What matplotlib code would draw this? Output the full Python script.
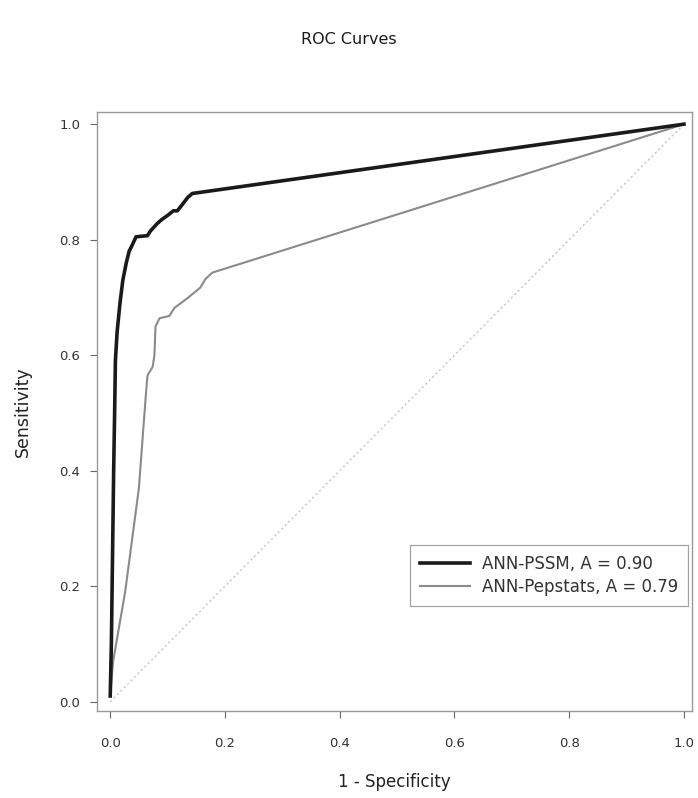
import matplotlib
matplotlib.use("Agg")
import matplotlib.pyplot as plt

plt.rcParams['font.family'] = ['DejaVu Sans']

# ROC points (1 - specificity, sensitivity)
pssm_fpr = [0.0, 0.002, 0.004, 0.006, 0.008, 0.009, 0.012, 0.017, 0.022, 0.028,
            0.033, 0.038, 0.045, 0.065, 0.07, 0.082, 0.09, 0.10, 0.11, 0.117,
            0.125, 0.135, 0.143, 1.0]
pssm_tpr = [0.01, 0.10, 0.25, 0.40, 0.52, 0.59, 0.64, 0.69, 0.73, 0.76,
            0.78, 0.79, 0.805, 0.807, 0.815, 0.828, 0.835, 0.842, 0.85, 0.85,
            0.86, 0.873, 0.88, 1.0]

pep_fpr = [0.0, 0.005, 0.026, 0.050, 0.062, 0.065, 0.074, 0.077, 0.079, 0.086,
           0.103, 0.112, 0.135, 0.157, 0.166, 0.178, 1.0]
pep_tpr = [0.01, 0.07, 0.19, 0.37, 0.53, 0.565, 0.58, 0.60, 0.65, 0.664,
           0.668, 0.682, 0.699, 0.717, 0.732, 0.743, 1.0]

labels = ["ANN-PSSM, A = 0.90", "ANN-Pepstats, A = 0.79"]
ticks = [0.0, 0.2, 0.4, 0.6, 0.8, 1.0]

fig = plt.figure(figsize=(6.98, 7.98), dpi=100)
ax = fig.add_axes([0.139, 0.109, 0.8524, 0.7506])

ax.plot([0, 1], [0, 1], color='#c4c4c4', lw=1, ls=(0, (1.5, 2)))
ax.plot(pep_fpr, pep_tpr, color='#8a8a8a', lw=1.5, label=labels[1])
ax.plot(pssm_fpr, pssm_tpr, color='#1a1a1a', lw=2.6, label=labels[0])

ax.set_xlim(-0.023, 1.014)
ax.set_ylim(-0.016, 1.021)
ax.set_xticks(ticks)
ax.set_yticks(ticks)
ax.set_xticklabels([f"{t:.1f}" for t in ticks])
ax.set_yticklabels([f"{t:.1f}" for t in ticks])
ax.tick_params(direction='out', length=5, width=0.8, color='#666666',
               labelsize=9.5, labelcolor='#333333', pad=14)
ax.tick_params(axis='y', pad=7)
for s in ax.spines.values():
    s.set_color('#999999')
    s.set_linewidth(1.0)

ax.set_xlabel("1 - Specificity", fontsize=12, labelpad=16, color='#222222')
ax.set_ylabel("Sensitivity", fontsize=12.5, labelpad=20, color='#222222')
fig.text(0.5, 0.95, "ROC Curves", ha='center', va='center', fontsize=11.5,
         color='#1a1a1a')

h, l = ax.get_legend_handles_labels()
leg = ax.legend(h[::-1], l[::-1], loc='lower right',
                bbox_to_anchor=(0.994, 0.176), fontsize=12, frameon=True,
                fancybox=False, edgecolor='#8c8c8c', handlelength=3.0,
                borderpad=0.6, labelspacing=0.3, handletextpad=0.75,
                borderaxespad=0)
leg.get_frame().set_linewidth(0.9)
for t in leg.get_texts():
    t.set_color('#333333')

fig.savefig("out.png", dpi=100)
